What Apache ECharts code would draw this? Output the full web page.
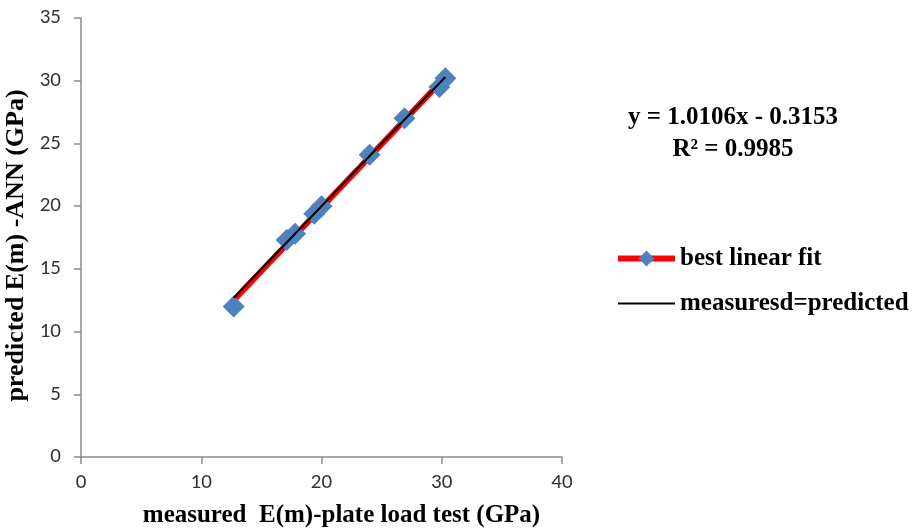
<!DOCTYPE html>
<html>
<head>
<meta charset="utf-8">
<script src="https://cdn.jsdelivr.net/npm/echarts@6/dist/echarts.min.js"></script>
<style>
  html, body { margin: 0; padding: 0; background: #fff; }
  #main { width: 913px; height: 528px; }
</style>
</head>
<body>
<div id="main"></div>
<script>
// measured vs predicted points
const measured  = [12.7, 17.1, 17.8, 19.4, 20.0, 24.0, 26.9, 29.8, 30.3];
const predicted = [12.0, 17.3, 17.8, 19.4, 20.0, 24.1, 27.0, 29.5, 30.2];
// red fit line ends
const fitX = [12.7, 30.3];
const fitY = [12.5, 30.3];
// measured = predicted reference line
const identityX = [12.7, 30.3];
const identityY = [12.7, 30.3];
const xTicks = [0, 10, 20, 30, 40];
const yTicks = [0, 5, 10, 15, 20, 25, 30, 35];

const chart = echarts.init(document.getElementById('main'));

const serif = '"Liberation Serif", "Times New Roman", serif';
const sans = 'Carlito, "Open Sans", sans-serif';
const axisGray = '#8c8c8c';

const points = measured.map((x, i) => [x, predicted[i]]);
const fit = fitX.map((x, i) => [x, fitY[i]]);
const identity = identityX.map((x, i) => [x, identityY[i]]);

const option = {
  animation: false,
  grid: { left: 81, right: 351, top: 18, bottom: 71, outerBoundsMode: 'none', containLabel: false },
  xAxis: {
    type: 'value',
    min: xTicks[0],
    max: xTicks[xTicks.length - 1],
    interval: 10,
    name: 'measured  E(m)-plate load test (GPa)',
    nameLocation: 'middle',
    nameGap: 46,
    nameTextStyle: { fontFamily: serif, fontWeight: 'bold', fontSize: 25, color: '#000', padding: [0, 0, 0, 40] },
    axisLine: { lineStyle: { color: axisGray, width: 1.5 } },
    axisTick: { show: true, length: 7, lineStyle: { color: axisGray, width: 1.5 } },
    axisLabel: { color: '#333', fontSize: 21, fontFamily: sans, margin: 15 },
    splitLine: { show: false }
  },
  yAxis: {
    type: 'value',
    min: yTicks[0],
    max: yTicks[yTicks.length - 1],
    interval: 5,
    name: 'predicted E(m) -ANN (GPa)',
    nameLocation: 'middle',
    nameGap: 48,
    nameTextStyle: { fontFamily: serif, fontWeight: 'bold', fontSize: 26, color: '#000', padding: [0, 16, 0, 0] },
    axisLine: { show: true, lineStyle: { color: axisGray, width: 1.5 } },
    axisTick: { show: true, length: 7, lineStyle: { color: axisGray, width: 1.5 } },
    axisLabel: { color: '#333', fontSize: 21, fontFamily: sans, margin: 20 },
    splitLine: { show: false }
  },
  legend: {
    orient: 'vertical',
    left: 610,
    top: 241,
    itemWidth: 57,
    itemHeight: 20,
    itemGap: 20,
    textStyle: { fontFamily: serif, fontWeight: 'bold', fontSize: 25, color: '#000' },
    data: [
      { name: 'best linear fit', lineStyle: { width: 6, color: '#FF0000', opacity: 1 } },
      { name: 'measuresd=predicted', icon: 'path://M0,0 L57,0 L57,2 L0,2 Z', itemStyle: { color: '#000' } }
    ]
  },
  graphic: [
    {
      type: 'text',
      x: 733,
      y: 118,
      style: { text: 'y = 1.0106x - 0.3153', font: 'bold 25px ' + serif, fill: '#000', align: 'center', verticalAlign: 'middle' }
    },
    {
      type: 'text',
      x: 733,
      y: 150,
      style: { text: 'R² = 0.9985', font: 'bold 25px ' + serif, fill: '#000', align: 'center', verticalAlign: 'middle' }
    }
  ],
  series: [
    {
      // the points (drawn as markers only)
      name: 'best linear fit',
      type: 'line',
      data: points,
      symbol: 'diamond',
      symbolSize: 22,
      itemStyle: { color: '#4F81BD' },
      lineStyle: { color: '#FF0000', width: 6, opacity: 0 },
      z: 3
    },
    {
      // straight red fit line
      name: 'best linear fit',
      type: 'line',
      data: fit,
      symbol: 'none',
      itemStyle: { color: '#FF0000' },
      lineStyle: { color: '#FF0000', width: 6 },
      z: 2
    },
    {
      name: 'measuresd=predicted',
      type: 'line',
      data: identity,
      symbol: 'none',
      itemStyle: { color: '#000' },
      lineStyle: { color: '#000', width: 2 },
      z: 4
    }
  ]
};

chart.setOption(option);
</script>
</body>
</html>
